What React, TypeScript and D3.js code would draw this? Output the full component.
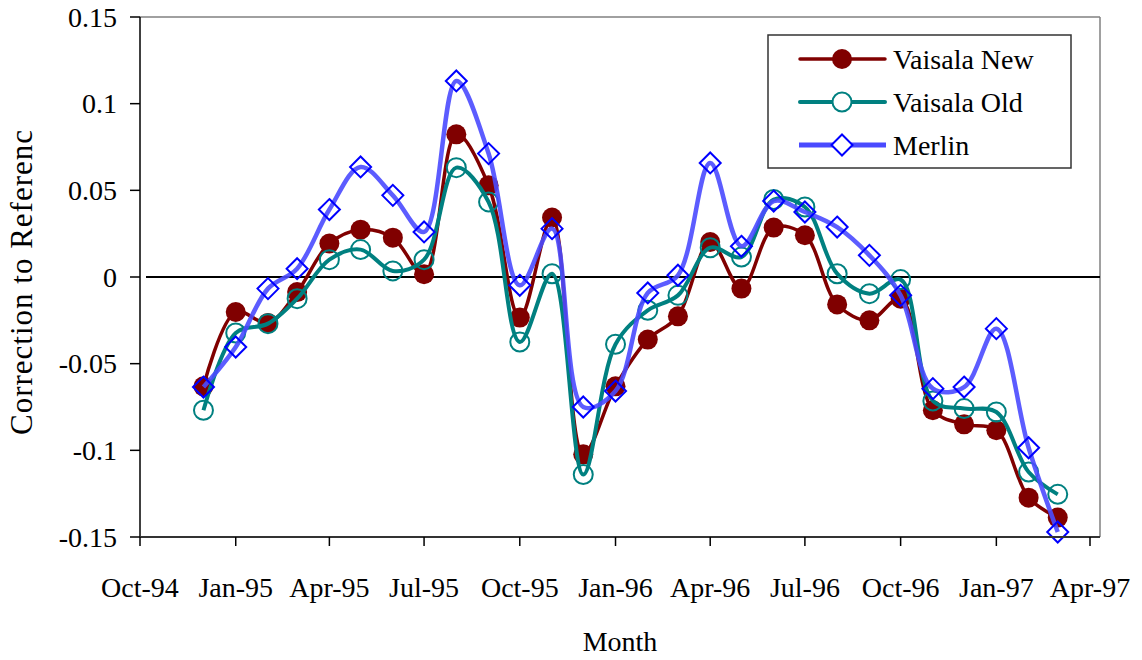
import React from "react";
import * as d3 from "d3";

const months: string[] = [
  "1994-12-01","1995-01-01","1995-02-01","1995-03-01","1995-04-01","1995-05-01","1995-06-01",
  "1995-07-01","1995-08-01","1995-09-01","1995-10-01","1995-11-01","1995-12-01","1996-01-01",
  "1996-02-01","1996-03-01","1996-04-01","1996-05-01","1996-06-01","1996-07-01","1996-08-01",
  "1996-09-01","1996-10-01","1996-11-01","1996-12-01","1997-01-01","1997-02-01","1997-03-01",
];

const vaisalaNew: number[] = [
  -0.0631, -0.0202, -0.0265, -0.0087, 0.0193, 0.0273, 0.0227, 0.0016, 0.0823, 0.0529,
  -0.0234, 0.0343, -0.1023, -0.0631, -0.0361, -0.0227, 0.0202, -0.0067, 0.0285, 0.0241,
  -0.0158, -0.025, -0.0125, -0.0769, -0.085, -0.0884, -0.1273, -0.1388,
];

const vaisalaOld: number[] = [
  -0.0769, -0.0323, -0.0269, -0.0125, 0.01, 0.0158, 0.0035, 0.01, 0.0631, 0.0433,
  -0.0375, 0.0019, -0.114, -0.0388, -0.0192, -0.0106, 0.0169, 0.0115, 0.0447, 0.0404,
  0.0019, -0.0096, -0.0015, -0.0715, -0.0759, -0.0779, -0.1125, -0.1254,
];

const merlin: number[] = [
  -0.0635, -0.0404, -0.0067, 0.0048, 0.0389, 0.0635, 0.0471, 0.026, 0.1131, 0.0712,
  -0.0048, 0.0279, -0.075, -0.0658, -0.0092, 0.001, 0.0658, 0.0177, 0.0438, 0.0375,
  0.0288, 0.0125, -0.0106, -0.0644, -0.0635, -0.0298, -0.0985, -0.1471,
];

const xTickDates: string[] = [
  "1994-10-01","1995-01-01","1995-04-01","1995-07-01","1995-10-01","1996-01-01",
  "1996-04-01","1996-07-01","1996-10-01","1997-01-01","1997-04-01",
];
const xTickLabels: string[] = [
  "Oct-94","Jan-95","Apr-95","Jul-95","Oct-95","Jan-96","Apr-96","Jul-96","Oct-96","Jan-97","Apr-97",
];
const yTicks: number[] = [0.15, 0.1, 0.05, 0, -0.05, -0.1, -0.15];
const yTickLabels: string[] = ["0.15", "0.1", "0.05", "0", "-0.05", "-0.1", "-0.15"];

const seriesNames: string[] = ["Vaisala New", "Vaisala Old", "Merlin"];

const W = 1142;
const H = 660;
const left = 140;
const right = 1100;
const top = 17;
const bottom = 537;
const FONT = "'Liberation Serif', 'Times New Roman', serif";

const parse = d3.timeParse("%Y-%m-%d");

export default function App() {
  const x = d3
    .scaleTime()
    .domain([parse("1994-10-01")!, parse("1997-04-01")!])
    .range([left, 1090]);
  const y = d3.scaleLinear().domain([-0.15, 0.15]).range([bottom, top]);

  const dates = months.map((m) => parse(m)!);
  const mk = (vals: number[]) => vals.map((v, i) => [x(dates[i]), y(v)] as [number, number]);

  const line = d3.line<[number, number]>().curve(d3.curveCatmullRom.alpha(0.5));

  const redPts = mk(vaisalaNew);
  const tealPts = mk(vaisalaOld);
  const bluePts = mk(merlin);

  const RED = "#800000";
  const TEAL = "#008080";
  const BLUE = "#0000ff";
  const BLUELINE = "#4a4aff";

  const diamond = (cx: number, cy: number, r: number) =>
    `M${cx},${cy - r}L${cx + r},${cy}L${cx},${cy + r}L${cx - r},${cy}Z`;

  const legX = 768;
  const legY = 35;
  const rows = [59, 102, 145];

  return (
    <svg
      width={W}
      height={H}
      style={{ position: "absolute", left: 0, top: 0, background: "#fff" }}
      fontFamily={FONT}
    >
      <defs>
        <clipPath id="ylabclip">
          <rect x={0} y={128} width={60} height={400} />
        </clipPath>
      </defs>
      <rect width={W} height={H} fill="#fff" />

      {/* frame */}
      <line x1={left} y1={top} x2={right} y2={top} stroke="#808080" strokeWidth={1.5} />
      <line x1={right} y1={top} x2={right} y2={bottom} stroke="#808080" strokeWidth={1.5} />

      {/* zero line */}
      <line x1={146} y1={y(0)} x2={right} y2={y(0)} stroke="#000" strokeWidth={2} />

      {/* series: Vaisala New */}
      <path d={line(redPts)!} fill="none" stroke={RED} strokeWidth={3.5} />
      {redPts.map((p, i) => (
        <circle key={"r" + i} cx={p[0]} cy={p[1]} r={10} fill={RED} />
      ))}

      {/* Vaisala Old */}
      <path d={line(tealPts)!} fill="none" stroke={TEAL} strokeWidth={4} />
      {tealPts.map((p, i) => (
        <circle key={"t" + i} cx={p[0]} cy={p[1]} r={9.5} fill="none" stroke={TEAL} strokeWidth={2} />
      ))}

      {/* Merlin */}
      <path d={line(bluePts)!} fill="none" stroke={BLUELINE} strokeWidth={4.5} strokeOpacity={0.9} />
      {bluePts.map((p, i) => (
        <path key={"b" + i} d={diamond(p[0], p[1], 10.5)} fill="none" stroke={BLUE} strokeWidth={2} />
      ))}

      {/* axes */}
      <line x1={left} y1={top} x2={left} y2={bottom} stroke="#000" strokeWidth={1.5} />
      <line x1={left} y1={bottom} x2={right} y2={bottom} stroke="#333" strokeWidth={2} />
      {yTicks.map((t, i) => (
        <g key={"yt" + i}>
          <line x1={130} x2={left} y1={y(t)} y2={y(t)} stroke="#000" strokeWidth={1.5} />
          <text x={117} y={y(t) + 9.5} textAnchor="end" fontSize={28} fill="#000">
            {yTickLabels[i]}
          </text>
        </g>
      ))}
      {xTickDates.map((d, i) => {
        const xx = x(parse(d)!);
        return (
          <g key={"xt" + i}>
            <line x1={xx} x2={xx} y1={bottom} y2={546} stroke="#000" strokeWidth={1.5} />
            <text x={xx} y={597} textAnchor="middle" fontSize={28} fill="#000">
              {xTickLabels[i]}
            </text>
          </g>
        );
      })}

      {/* axis titles */}
      <text x={620} y={651} textAnchor="middle" fontSize={28} fill="#000">
        Month
      </text>
      <g clipPath="url(#ylabclip)">
        <text
          transform="translate(32,435) rotate(-90)"
          textAnchor="start"
          fontSize={31}
          letterSpacing={1}
          fill="#000"
        >
          Correction to Reference
        </text>
      </g>

      {/* legend */}
      <rect x={legX} y={legY} width={303} height={133} fill="#fff" stroke="#333" strokeWidth={1.5} />
      <line x1={800} x2={885} y1={rows[0]} y2={rows[0]} stroke={RED} strokeWidth={3.5} strokeLinecap="round" />
      <circle cx={842} cy={rows[0]} r={10} fill={RED} />
      <line x1={800} x2={885} y1={rows[1]} y2={rows[1]} stroke={TEAL} strokeWidth={4} strokeLinecap="round" />
      <circle cx={842} cy={rows[1]} r={9.5} fill="#fff" stroke={TEAL} strokeWidth={2} />
      <line x1={799} x2={886} y1={rows[2]} y2={rows[2]} stroke={BLUELINE} strokeWidth={5} />
      <path d={diamond(842, rows[2], 10.5)} fill="#fff" stroke={BLUE} strokeWidth={2} />
      {seriesNames.map((n, i) => (
        <text key={"lg" + i} x={893} y={rows[i] + 10} fontSize={28} fill="#000">
          {n}
        </text>
      ))}
    </svg>
  );
}
